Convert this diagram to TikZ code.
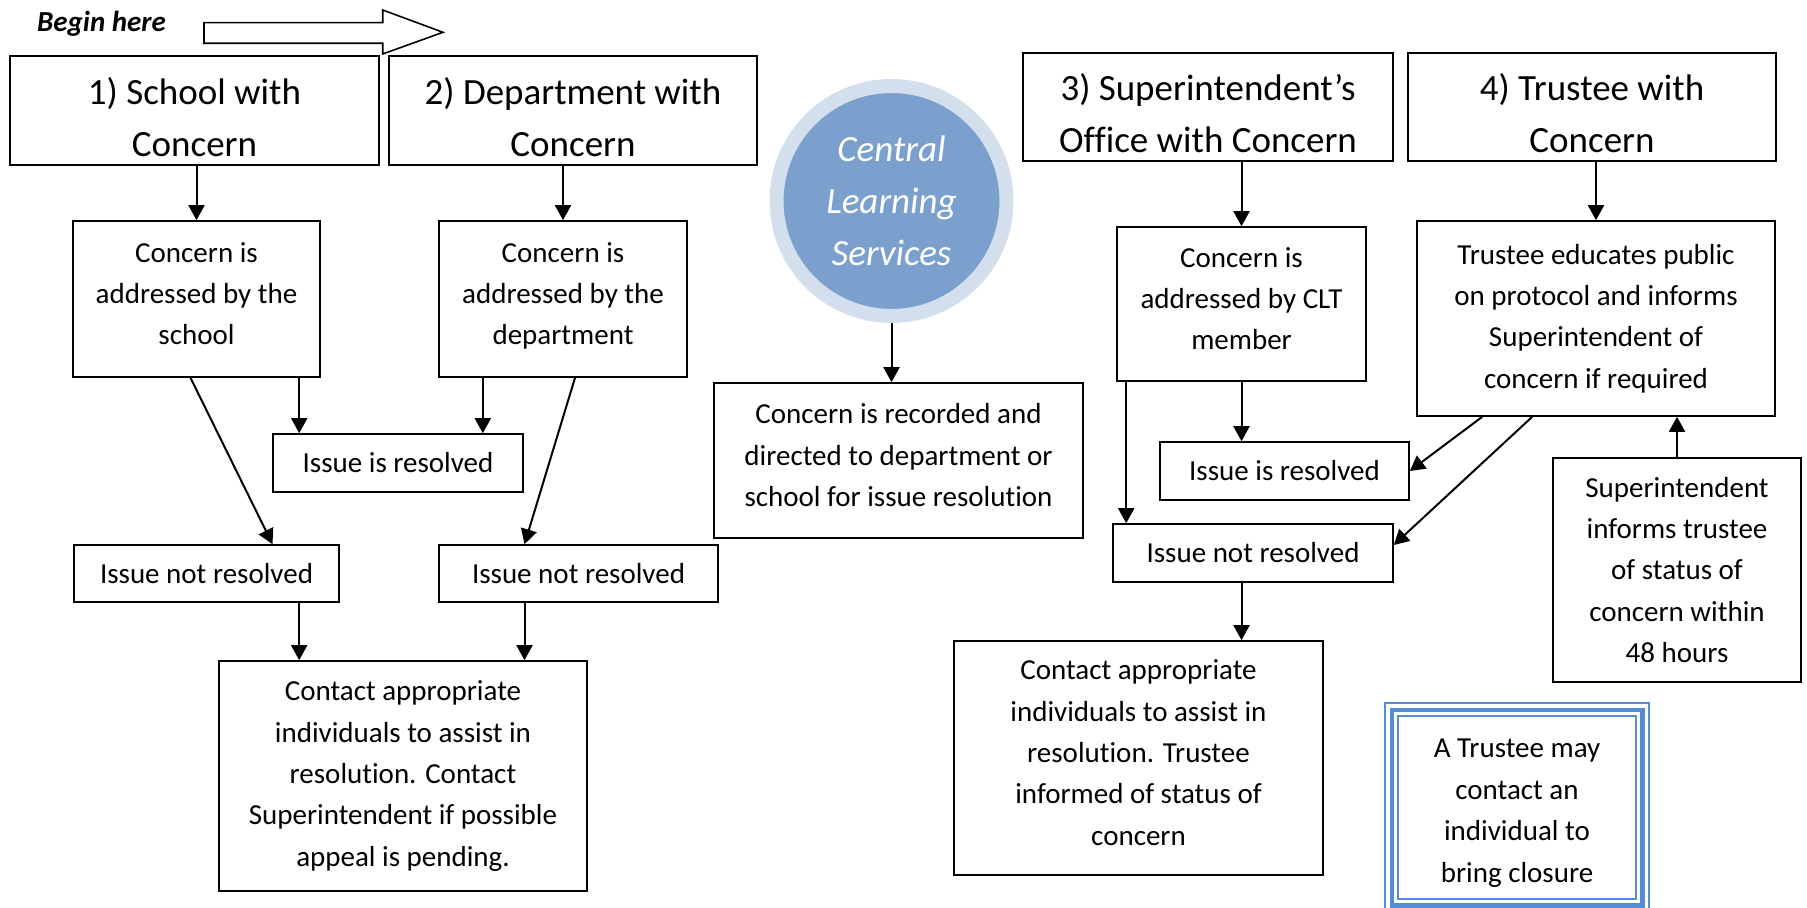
\documentclass[tikz,border=0pt]{standalone}
\usepackage{fontspec}
\setmainfont{Carlito}[Ligatures=NoCommon]
\usepackage{tikz}
\usetikzlibrary{arrows.meta}

\definecolor{kreisblau}{RGB}{123,160,206}
\definecolor{ringblau}{RGB}{212,223,238}
\definecolor{rahmenblau}{RGB}{84,141,212}

\begin{document}
\begin{tikzpicture}[%
    x=0.5pt, y=-0.5pt, % Pixelraster
    kasten/.style={draw, line width=0.8pt, align=center, inner sep=0pt,
        font=\fontsize{14.5}{20.7}\selectfont},
    kopf/.style={kasten, font=\fontsize{18.5}{26}\selectfont,
        execute at begin node=\rule{0pt}{46pt}},
    hoch/.style={execute at end node=\rule[-5.5pt]{0pt}{0pt}},
    pfeil/.style={->, line width=1pt},
    >={Triangle[length=7.5pt,width=8pt]} % Pfeilspitzen
    ]
    \useasboundingbox (0,0) rectangle (1807,908);

    % Start
    \node[font=\bfseries\itshape\fontsize{14.5}{17}\selectfont] (beginn) at (101.5,24) {Begin here};
    \draw[line width=0.8pt] (204,22.7) -- (382.7,22.7) -- (382.7,10) -- (443,32.3)
        -- (382.7,54) -- (382.7,43.3) -- (204,43.3) -- cycle;

    % Kopfzeile
    \node[kopf, minimum width=184.5pt, minimum height=54.5pt] (kopfA) at (194.5,110.5) {1) School with\\Concern};
    \node[kopf, minimum width=184pt, minimum height=54.5pt] (kopfB) at (573,110.5) {2) Department with\\Concern};
    \node[kopf, minimum width=185pt, minimum height=54pt] (kopfC) at (1208,107) {3) Superintendent’s\\Office with Concern};
    \node[kopf, minimum width=184pt, minimum height=54pt] (kopfD) at (1592,107) {4) Trustee with\\Concern};

    % Kreis
    \node[circle, minimum size=115pt, inner sep=0pt, fill=kreisblau, draw=ringblau, line width=7pt,
        text=white, align=center, font=\itshape\fontsize{18.5}{26}\selectfont] (cls) at (891.5,201) {Central\\Learning\\Services};

    % Schule, Abteilung
    \node[kasten, hoch, minimum width=123.5pt, minimum height=78pt] (schule) at (196.5,299) {Concern is\\addressed by the\\school};
    \node[kasten, hoch, minimum width=124pt, minimum height=78pt] (abt) at (563,299) {Concern is\\addressed by the\\department};
    \node[kasten, minimum width=125pt, minimum height=29pt] (geloestA) at (398,463) {Issue is resolved};
    \node[kasten, minimum width=132.5pt, minimum height=28.5pt] (offenA) at (206.5,573.5) {Issue not resolved};
    \node[kasten, minimum width=139.5pt, minimum height=28.5pt] (offenB) at (578.5,573.5) {Issue not resolved};
    \node[kasten, minimum width=184pt, minimum height=115pt] (kontaktA) at (403,776) {Contact appropriate\\individuals to assist in\\resolution. Contact\\Superintendent if possible\\appeal is pending.};

    % Mitte
    \node[kasten, hoch, minimum width=184.5pt, minimum height=77.5pt] (erfasst) at (898.5,460.5) {Concern is recorded and\\directed to department or\\school for issue resolution};

    % Superintendent, Trustee
    \node[kasten, hoch, minimum width=124.5pt, minimum height=77pt] (clt) at (1241.5,304) {Concern is\\addressed by CLT\\member};
    \node[kasten, minimum width=124.5pt, minimum height=29pt] (geloestB) at (1284.5,471) {Issue is resolved};
    \node[kasten, minimum width=140pt, minimum height=29pt] (offenC) at (1253,553) {Issue not resolved};
    \node[kasten, hoch, minimum width=184.5pt, minimum height=117pt] (kontaktB) at (1138.5,758) {Contact appropriate\\individuals to assist in\\resolution. Trustee\\informed of status of\\concern};
    \node[kasten, minimum width=179pt, minimum height=97.5pt] (trustee) at (1596,318.5) {Trustee educates public\\on protocol and informs\\Superintendent of\\concern if required};
    \node[kasten, minimum width=124pt, minimum height=112pt] (info) at (1677,570) {Superintendent\\informs trustee\\of status of\\concern within\\48 hours};

    % Dreifachrahmen
    \node[kasten, draw=rahmenblau, minimum width=132pt, minimum height=104.5pt,
        execute at begin node=\rule{0pt}{77pt}] (schluss) at (1517,807.5) {A Trustee may\\contact an\\individual to\\bring closure};
    \draw[rahmenblau, line width=2.2pt] ([shift={(3.75pt,-3.75pt)}]schluss.north west) rectangle ([shift={(-3.75pt,3.75pt)}]schluss.south east);
    \draw[rahmenblau, line width=0.8pt] ([shift={(7pt,-7pt)}]schluss.north west) rectangle ([shift={(-7pt,7pt)}]schluss.south east);

    % Hilfspunkte
    \coordinate (xA) at ([xshift=13.5pt]geloestA.north west);
    \coordinate (xD) at ([xshift=-20.5pt]geloestA.north east);
    \coordinate (xB) at ([xshift=-27pt]offenB.north);
    \coordinate (xC) at ([xshift=5pt]clt.south west);

    % Pfeile
    \draw[pfeil] (schule.north |- kopfA.south) -- (schule.north);
    \draw[pfeil] (abt.north |- kopfB.south) -- (abt.north);
    \draw[pfeil] (schule.south -| xA) -- (xA);
    \draw[pfeil] (abt.south -| xD) -- (xD);
    \draw[pfeil] ([xshift=-3pt]schule.south) -- ([xshift=33pt]offenA.north);
    \draw[pfeil] ([xshift=6pt]abt.south) -- (xB);
    \draw[pfeil] (offenA.south -| xA) -- (kontaktA.north -| xA);
    \draw[pfeil] (offenB.south -| xB) -- (kontaktA.north -| xB);
    \draw[pfeil] (cls.south) -- (cls.south |- erfasst.north);
    \draw[pfeil] (clt.north |- kopfC.south) -- (clt.north);
    \draw[pfeil] (clt.south) -- (clt.south |- geloestB.north);
    \draw[pfeil] (xC) -- (xC |- offenC.north);
    \draw[pfeil] (offenC.south -| clt.south) -- (kontaktB.north -| clt.south);
    \draw[pfeil] (trustee.north |- kopfD.south) -- (trustee.north);
    \draw[pfeil] ([xshift=33pt]trustee.south west) -- (geloestB.east);
    \draw[pfeil] ([xshift=58pt]trustee.south west) -- ([yshift=4pt]offenC.east);
    \draw[pfeil] (info.north) -- (info.north |- trustee.south);
\end{tikzpicture}
\end{document}
